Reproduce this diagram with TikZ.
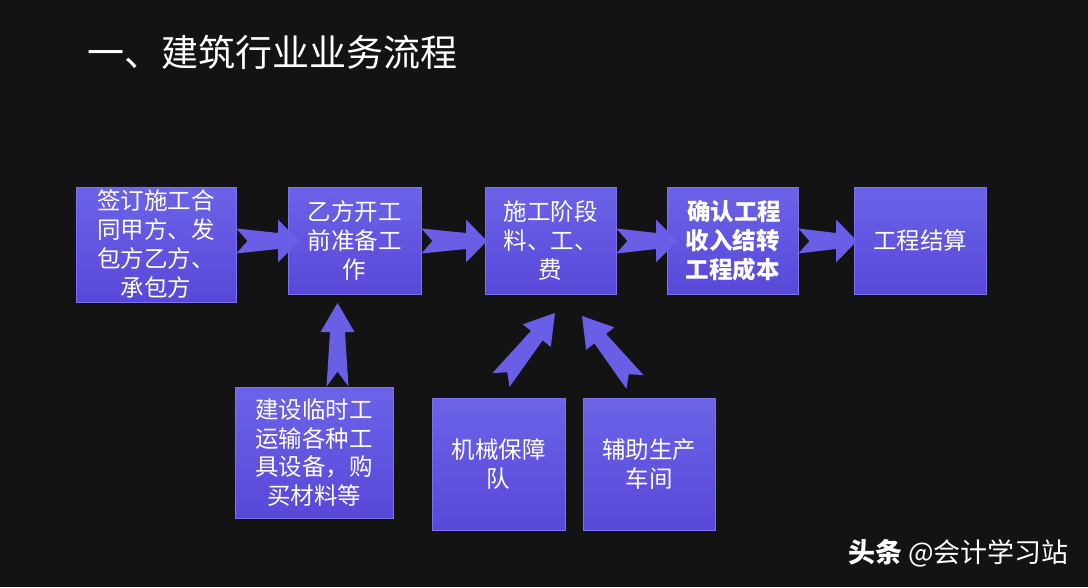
\documentclass[tikz,border=0pt]{standalone}
\usepackage{fontspec}
\setmainfont{Noto Sans CJK SC}
\usetikzlibrary{calc}
\definecolor{bgc}{HTML}{131313}
\definecolor{boxtop}{HTML}{6C63E8}
\definecolor{boxbot}{HTML}{5848D8}
\definecolor{boxline}{HTML}{7C72F0}
\definecolor{arrc}{HTML}{6A5EE6}
% #1 tail, #2 tip, #3 tail half width, #4 shaft half width at head, #5 head half width, #6 head length, #7 notch depth
\newcommand\blockarrow[7]{%
  \coordinate (hb) at ($(#2)!#6pt!(#1)$);
  \fill[arrc] ($(#1)!#3pt!90:(#2)$) -- ($(hb)!#4pt!90:(#2)$) -- ($(hb)!#5pt!90:(#2)$)
    -- (#2) -- ($(hb)!#5pt!-90:(#2)$) -- ($(hb)!#4pt!-90:(#2)$)
    -- ($(#1)!#3pt!-90:(#2)$) -- ($(#1)!#7pt!(#2)$) -- cycle;
}
\begin{document}
\begin{tikzpicture}[x=1pt,y=-1pt,
  stagebox/.style={draw=boxline, line width=0.8pt, top color=boxtop, bottom color=boxbot,
    text=white, align=center, inner sep=0pt, font=\fontsize{23.5}{29}\selectfont},
  txt/.style={text=white, inner sep=0pt}]
\fill[bgc] (0,0) rectangle (1088,587);
\useasboundingbox (0,0) rectangle (1088,587);

\node[txt, anchor=west, font=\fontsize{37}{42}\selectfont] (title) at (87,52) {一、建筑行业业务流程};

\node[stagebox, minimum width=160pt, minimum height=115pt] (b1) at (156,244.5) {签订施工合\\同甲方、发\\包方乙方、\\承包方};
\node[stagebox, minimum width=133pt, minimum height=107pt] (b2) at (354.5,240.5) {乙方开工\\前准备工\\作};
\node[stagebox, minimum width=131pt, minimum height=107pt] (b3) at (550.5,240.5) {施工阶段\\料、工、\\费};
\node[stagebox, minimum width=131pt, minimum height=107pt, font=\fontsize{23.5}{29}\selectfont\bfseries] (b4) at (732.5,240.5) {\,确认工程\\收入结转\\工程成本};
\node[stagebox, minimum width=132pt, minimum height=107pt] (b5) at (920,240.5) {工程结算};
\node[stagebox, minimum width=158pt, minimum height=131pt, font=\fontsize{23.5}{28.5}\selectfont] (b6) at (314,452.5) {建设临时工\\运输各种工\\具设备，购\\买材料等};
\node[stagebox, minimum width=133pt, minimum height=132pt] (b7) at (498.5,464) {机械保障\\队};
\node[stagebox, minimum width=132pt, minimum height=132pt] (b8) at (649,464) {辅助生产\\车间};

% connector end points
\coordinate (t12) at (b1.east |- 0,241);
\coordinate (p12) at (299,241);
\coordinate (t23) at (b2.east |- 0,241);
\coordinate (p23) at (487,241);
\coordinate (t34) at (b3.east |- 0,241);
\coordinate (p34) at (677,241);
\coordinate (t45) at (b4.east |- 0,241);
\coordinate (p45) at (857,241);
\coordinate (t62) at (b6.north -| 337.5,0);
\coordinate (p62) at (337.5,303);
\coordinate (t73) at (501,380);
\coordinate (p73) at (555,313);
\coordinate (t83) at (635,382);
\coordinate (p83) at (582,316);

\blockarrow{t12}{p12}{12.5}{8}{21.5}{21}{11}
\blockarrow{t23}{p23}{12.5}{8}{21.5}{21}{11}
\blockarrow{t34}{p34}{12.5}{8}{21.5}{21}{11}
\blockarrow{t45}{p45}{12.5}{8}{21.5}{21}{11}
\blockarrow{t62}{p62}{11}{7.5}{17}{29}{15}
\blockarrow{t73}{p73}{11}{7.5}{18}{29}{10}
\blockarrow{t83}{p83}{11}{7.5}{18}{29}{10}

\node[txt, anchor=east, font=\fontsize{27}{30}\selectfont] (wm) at (1069,553) {\textbf{头条} @会计学习站};
\end{tikzpicture}
\end{document}
